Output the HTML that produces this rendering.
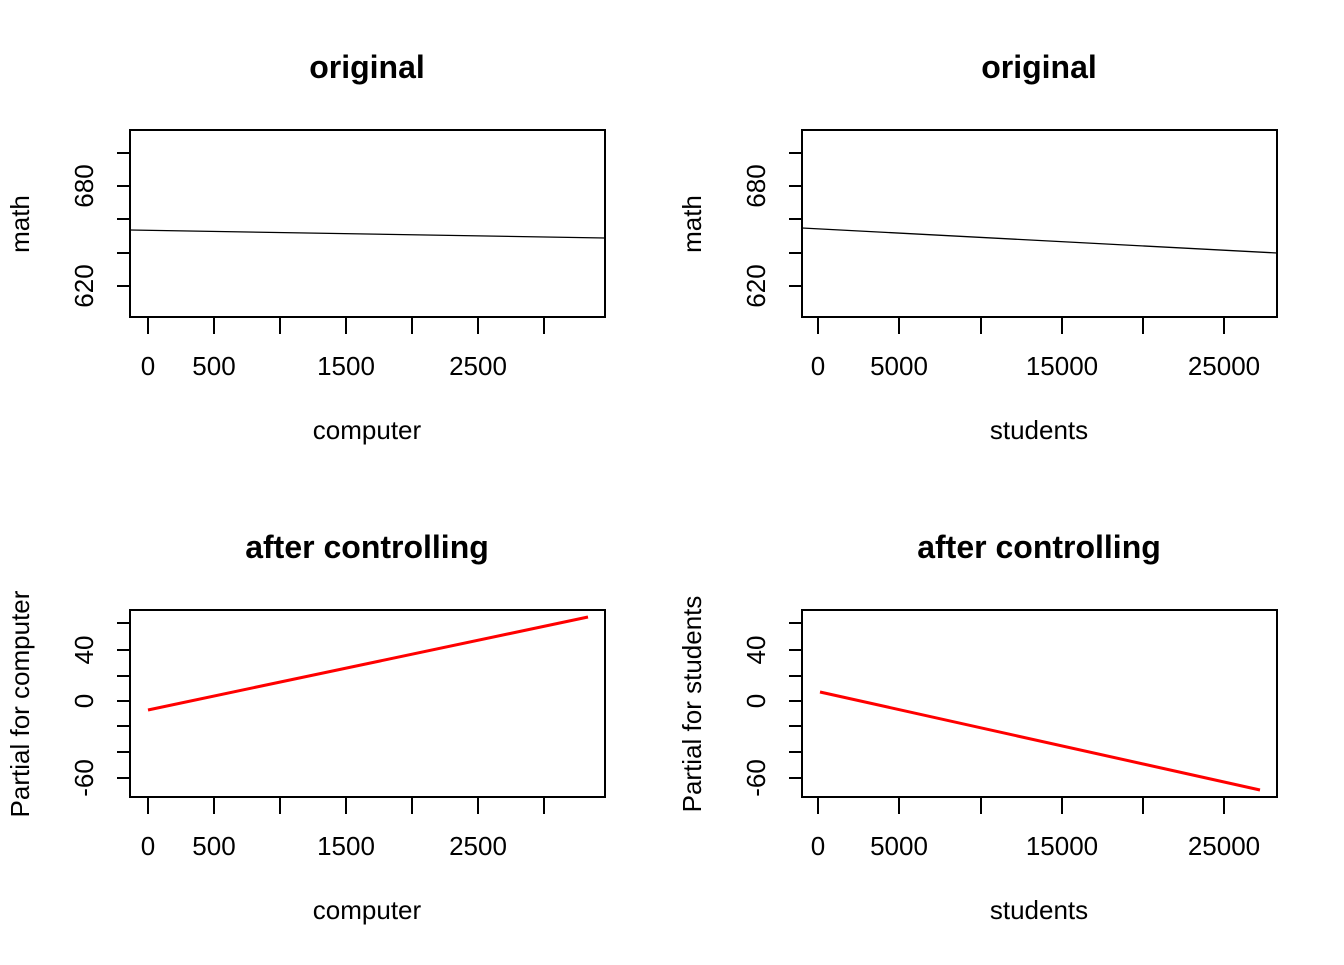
<!DOCTYPE html><html><head><style>body{margin:0;background:#fff}svg text{font-family:"Liberation Sans",Arial,sans-serif}</style></head><body>
<svg width="1344" height="960" xmlns="http://www.w3.org/2000/svg">
<g fill="none" stroke="#000" stroke-width="2">
<rect x="130" y="130" width="475" height="187"/>
<rect x="802" y="130" width="475" height="187"/>
<rect x="130" y="610" width="475" height="187"/>
<rect x="802" y="610" width="475" height="187"/>
<path d="M130,153h-13M130,186h-13M130,219h-13M130,253h-13M130,286h-13"/>
<path d="M802,153h-13M802,186h-13M802,219h-13M802,253h-13M802,286h-13"/>
<path d="M130,623h-13M130,650h-13M130,676h-13M130,701h-13M130,726h-13M130,752h-13M130,778h-13"/>
<path d="M802,623h-13M802,650h-13M802,676h-13M802,701h-13M802,726h-13M802,752h-13M802,778h-13"/>
<path d="M148,317v17M214,317v17M280,317v17M346,317v17M412,317v17M478,317v17M544,317v17"/>
<path d="M148,797v17M214,797v17M280,797v17M346,797v17M412,797v17M478,797v17M544,797v17"/>
<path d="M818,317v17M899,317v17M981,317v17M1062,317v17M1143,317v17M1224,317v17"/>
<path d="M818,797v17M899,797v17M981,797v17M1062,797v17M1143,797v17M1224,797v17"/>
</g>
<g stroke="#000" stroke-width="1.3"><line x1="130" y1="230" x2="605" y2="238"/><line x1="802" y1="228" x2="1277" y2="253"/></g>
<g stroke="#f00" stroke-width="3"><line x1="148" y1="710" x2="588" y2="617"/><line x1="820" y1="692" x2="1260" y2="790"/></g>
<g font-size="32" font-weight="bold" text-anchor="middle"><text x="367" y="78">original</text><text x="1039" y="78">original</text><text x="367" y="558">after controlling</text><text x="1039" y="558">after controlling</text></g>
<g font-size="26" text-anchor="middle">
<text x="148" y="375">0</text><text x="214" y="375">500</text><text x="346" y="375">1500</text><text x="478" y="375">2500</text>
<text x="148" y="855">0</text><text x="214" y="855">500</text><text x="346" y="855">1500</text><text x="478" y="855">2500</text>
<text x="818" y="375">0</text><text x="899" y="375">5000</text><text x="1062" y="375">15000</text><text x="1224" y="375">25000</text>
<text x="818" y="855">0</text><text x="899" y="855">5000</text><text x="1062" y="855">15000</text><text x="1224" y="855">25000</text>
<text x="367" y="439">computer</text><text x="1039" y="439">students</text><text x="367" y="919">computer</text><text x="1039" y="919">students</text>
<text transform="translate(93,186) rotate(-90)">680</text><text transform="translate(93,286) rotate(-90)">620</text>
<text transform="translate(765,186) rotate(-90)">680</text><text transform="translate(765,286) rotate(-90)">620</text>
<text transform="translate(93,650) rotate(-90)">40</text><text transform="translate(93,701) rotate(-90)">0</text><text transform="translate(93,778) rotate(-90)">-60</text>
<text transform="translate(765,650) rotate(-90)">40</text><text transform="translate(765,701) rotate(-90)">0</text><text transform="translate(765,778) rotate(-90)">-60</text>
<text transform="translate(29,224) rotate(-90)">math</text><text transform="translate(701,224) rotate(-90)">math</text>
<text transform="translate(29,704) rotate(-90)">Partial for computer</text><text transform="translate(701,704) rotate(-90)">Partial for students</text>
</g>
</svg></body></html>
